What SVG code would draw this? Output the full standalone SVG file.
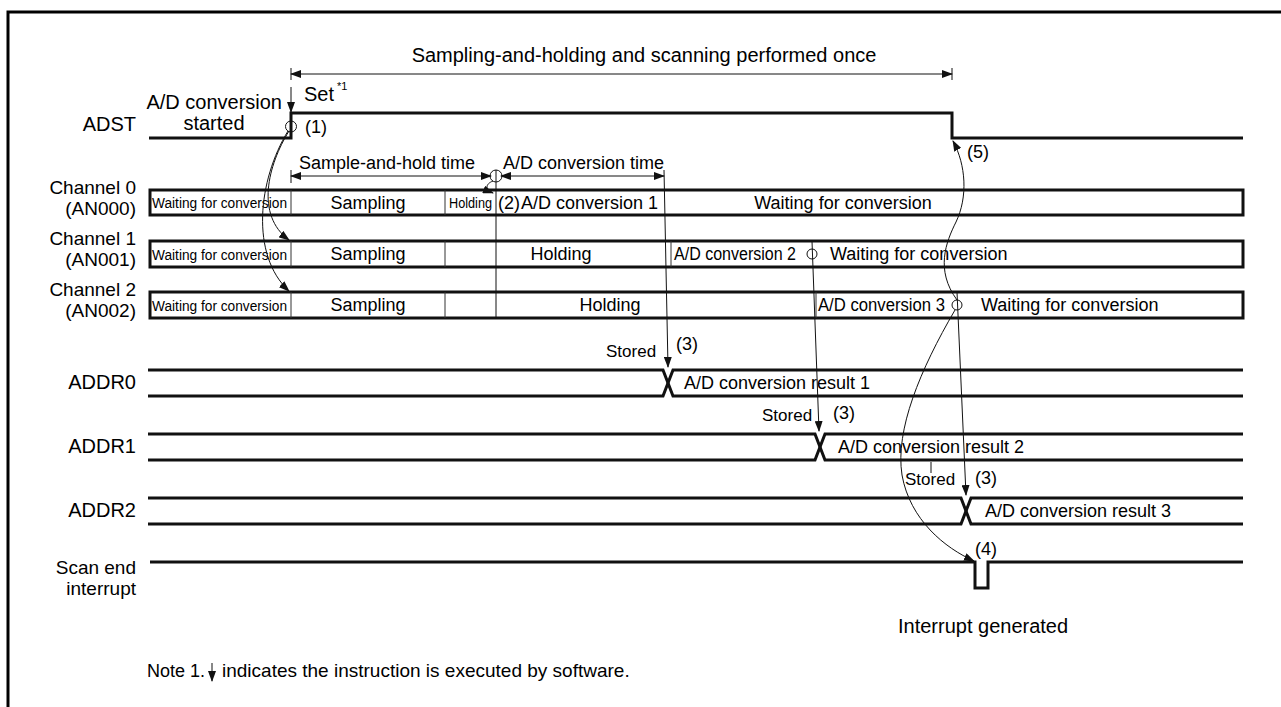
<svg xmlns="http://www.w3.org/2000/svg" width="1281" height="707" viewBox="0 0 1281 707">
<defs>
<marker id="ah" markerUnits="userSpaceOnUse" markerWidth="11" markerHeight="8" refX="10" refY="4" orient="auto-start-reverse"><path d="M0,0 L11,4 L0,8 z" fill="#111"/></marker>
</defs>
<style>
text{font-family:"Liberation Sans",Arial,sans-serif;fill:#000}
.lb{font-size:20px}
.md{font-size:18px}
.sm{font-size:14px}
.st{font-size:17px}
.end{text-anchor:end}
.mid{text-anchor:middle}
.wave{fill:none;stroke:#111;stroke-width:3;stroke-linejoin:miter}
.box{fill:none;stroke:#111;stroke-width:3}
.div{stroke:#333;stroke-width:1}
.thin{fill:none;stroke:#111;stroke-width:1}
.arr{fill:none;stroke:#111;stroke-width:1;marker-end:url(#ah)}
.arr2{fill:none;stroke:#111;stroke-width:1;marker-end:url(#ah);marker-start:url(#ah)}
.circ{fill:none;stroke:#111;stroke-width:1}
</style>
<rect width="1281" height="707" fill="#fff"/>
<path d="M8,707 V12 H1281" fill="none" stroke="#000" stroke-width="3"/>

<g id="title">
<text class="lb mid" x="644" y="62">Sampling-and-holding and scanning performed once</text>
</g>

<g id="adst">
<text class="lb end" x="136" y="131">ADST</text>
<text class="lb end" x="282" y="109">A/D conversion</text>
<text class="lb mid" x="214" y="130">started</text>
<text class="lb" x="304" y="101">Set</text>
<text x="337" y="90" style="font-size:11px">*1</text>
<text class="md" x="305" y="133">(1)</text>
<text class="md" x="967" y="158">(5)</text>
<polyline class="wave" points="149,138 291,138 291,113 952,113 952,138 1243,138"/>
<circle class="circ" cx="291" cy="126.5" r="5.5"/>
</g>

<g id="timing-labels">
<text class="md" x="299" y="169">Sample-and-hold time</text>
<text class="md" x="503" y="169">A/D conversion time</text>
</g>

<g id="ch0">
<text class="lb end" x="136" y="194" style="font-size:19px">Channel 0</text>
<text class="lb end" x="136" y="215" style="font-size:19px">(AN000)</text>
<rect class="box" x="150" y="190" width="1093" height="25"/>
<line class="div" x1="291" y1="190" x2="291" y2="215"/>
<line class="div" x1="445" y1="190" x2="445" y2="215"/>
<text class="sm" x="152" y="208" textLength="135" lengthAdjust="spacingAndGlyphs">Waiting for conversion</text>
<text class="md mid" x="368" y="209">Sampling</text>
<text class="sm" x="449" y="208" textLength="43" lengthAdjust="spacingAndGlyphs">Holding</text>
<text class="md" x="498" y="209">(2)</text>
<text class="md" x="521" y="209">A/D conversion 1</text>
<text class="md mid" x="843" y="209">Waiting for conversion</text>
</g>

<g id="ch1">
<text class="lb end" x="136" y="245" style="font-size:19px">Channel 1</text>
<text class="lb end" x="136" y="266" style="font-size:19px">(AN001)</text>
<rect class="box" x="150" y="241" width="1093" height="26"/>
<line class="div" x1="291" y1="241" x2="291" y2="267"/>
<line class="div" x1="445" y1="241" x2="445" y2="267"/>
<line class="div" x1="671" y1="241" x2="671" y2="267"/>
<text class="sm" x="152" y="260" textLength="135" lengthAdjust="spacingAndGlyphs">Waiting for conversion</text>
<text class="md mid" x="368" y="260">Sampling</text>
<text class="md mid" x="561" y="260">Holding</text>
<text class="md" x="674" y="260" textLength="122" lengthAdjust="spacingAndGlyphs">A/D conversion 2</text>
<circle class="circ" cx="812" cy="254" r="5"/>
<text class="md" x="830" y="260">Waiting for conversion</text>
</g>

<g id="ch2">
<text class="lb end" x="136" y="296" style="font-size:19px">Channel 2</text>
<text class="lb end" x="136" y="317" style="font-size:19px">(AN002)</text>
<rect class="box" x="150" y="292" width="1093" height="26"/>
<line class="div" x1="291" y1="292" x2="291" y2="318"/>
<line class="div" x1="445" y1="292" x2="445" y2="318"/>
<line class="div" x1="816" y1="292" x2="816" y2="318"/>
<text class="sm" x="152" y="311" textLength="135" lengthAdjust="spacingAndGlyphs">Waiting for conversion</text>
<text class="md mid" x="368" y="311">Sampling</text>
<text class="md mid" x="610" y="311">Holding</text>
<text class="md" x="818" y="311" textLength="127" lengthAdjust="spacingAndGlyphs">A/D conversion 3</text>
<circle class="circ" cx="957" cy="305" r="5"/>
<text class="md" x="981" y="311">Waiting for conversion</text>
</g>

<g id="addr0">
<text class="lb end" x="136" y="389">ADDR0</text>
<path class="wave" d="M148,370 H663 L673,396 H1243"/>
<path class="wave" d="M148,396 H663 L673,370 H1243"/>
<text class="st" x="606" y="357">Stored</text>
<text class="md" x="676" y="350">(3)</text>
<text class="md" x="684" y="389">A/D conversion result 1</text>
</g>

<g id="addr1">
<text class="lb end" x="136" y="453">ADDR1</text>
<path class="wave" d="M148,434 H815 L825,460 H1243"/>
<path class="wave" d="M148,460 H815 L825,434 H1243"/>
<text class="st" x="762" y="421">Stored</text>
<text class="md" x="833" y="419">(3)</text>
<text class="md" x="838" y="453">A/D conversion result 2</text>
</g>

<g id="addr2">
<text class="lb end" x="136" y="517">ADDR2</text>
<path class="wave" d="M148,498 H961 L971,524 H1243"/>
<path class="wave" d="M148,524 H961 L971,498 H1243"/>
<text class="st" x="905" y="485">Stored</text>
<text class="md" x="975" y="484">(3)</text>
<text class="md" x="985" y="517">A/D conversion result 3</text>
</g>

<g id="scanend">
<text class="lb end" x="136" y="574" style="font-size:19px">Scan end</text>
<text class="lb end" x="136" y="595" style="font-size:19px">interrupt</text>
<path class="wave" d="M150,562 H975 V588 H988 V562 H1243"/>
<text class="md" x="975" y="555">(4)</text>
<text class="lb" x="898" y="633">Interrupt generated</text>
</g>

<g id="note">
<text x="147" y="677" style="font-size:18px">Note 1.</text>
<line class="arr" x1="212" y1="663" x2="212" y2="681"/>
<text x="222" y="677" style="font-size:19px">indicates the instruction is executed by software.</text>
</g>

<g id="connectors">
<line class="arr2" x1="291" y1="74" x2="952" y2="74"/>
<line class="thin" x1="291" y1="68" x2="291" y2="80"/>
<line class="thin" x1="952" y1="68" x2="952" y2="80"/>
<line class="arr" x1="291" y1="87" x2="291" y2="112"/>
<line class="arr2" x1="291" y1="176" x2="491" y2="176"/>
<line class="thin" x1="291" y1="170" x2="291" y2="183"/>
<line class="arr2" x1="501" y1="176" x2="664" y2="176"/>
<circle class="circ" cx="496" cy="176" r="6"/>
<line class="thin" x1="496" y1="170" x2="496" y2="318"/>
<path class="arr" d="M493,181 C485,184 485,190 493,193"/>
<path class="arr" d="M664,170 L668,367"/>
<path class="arr" d="M812,241 L819,431"/>
<path class="arr" d="M957,292 L966,495"/>
<line class="thin" x1="931" y1="462" x2="931" y2="473"/>
<path class="arr" d="M289,131 C268,165 255,215 289,240"/>
<path class="arr" d="M288,131 C258,180 250,255 289,291"/>
<path class="arr" d="M957,300 C935,270 946,242 956,222 C968,197 966,165 953,141"/>
<path class="arr" d="M955,310 C920,370 895,430 902,475 C910,520 945,548 974,561"/>
</g>
</svg>
